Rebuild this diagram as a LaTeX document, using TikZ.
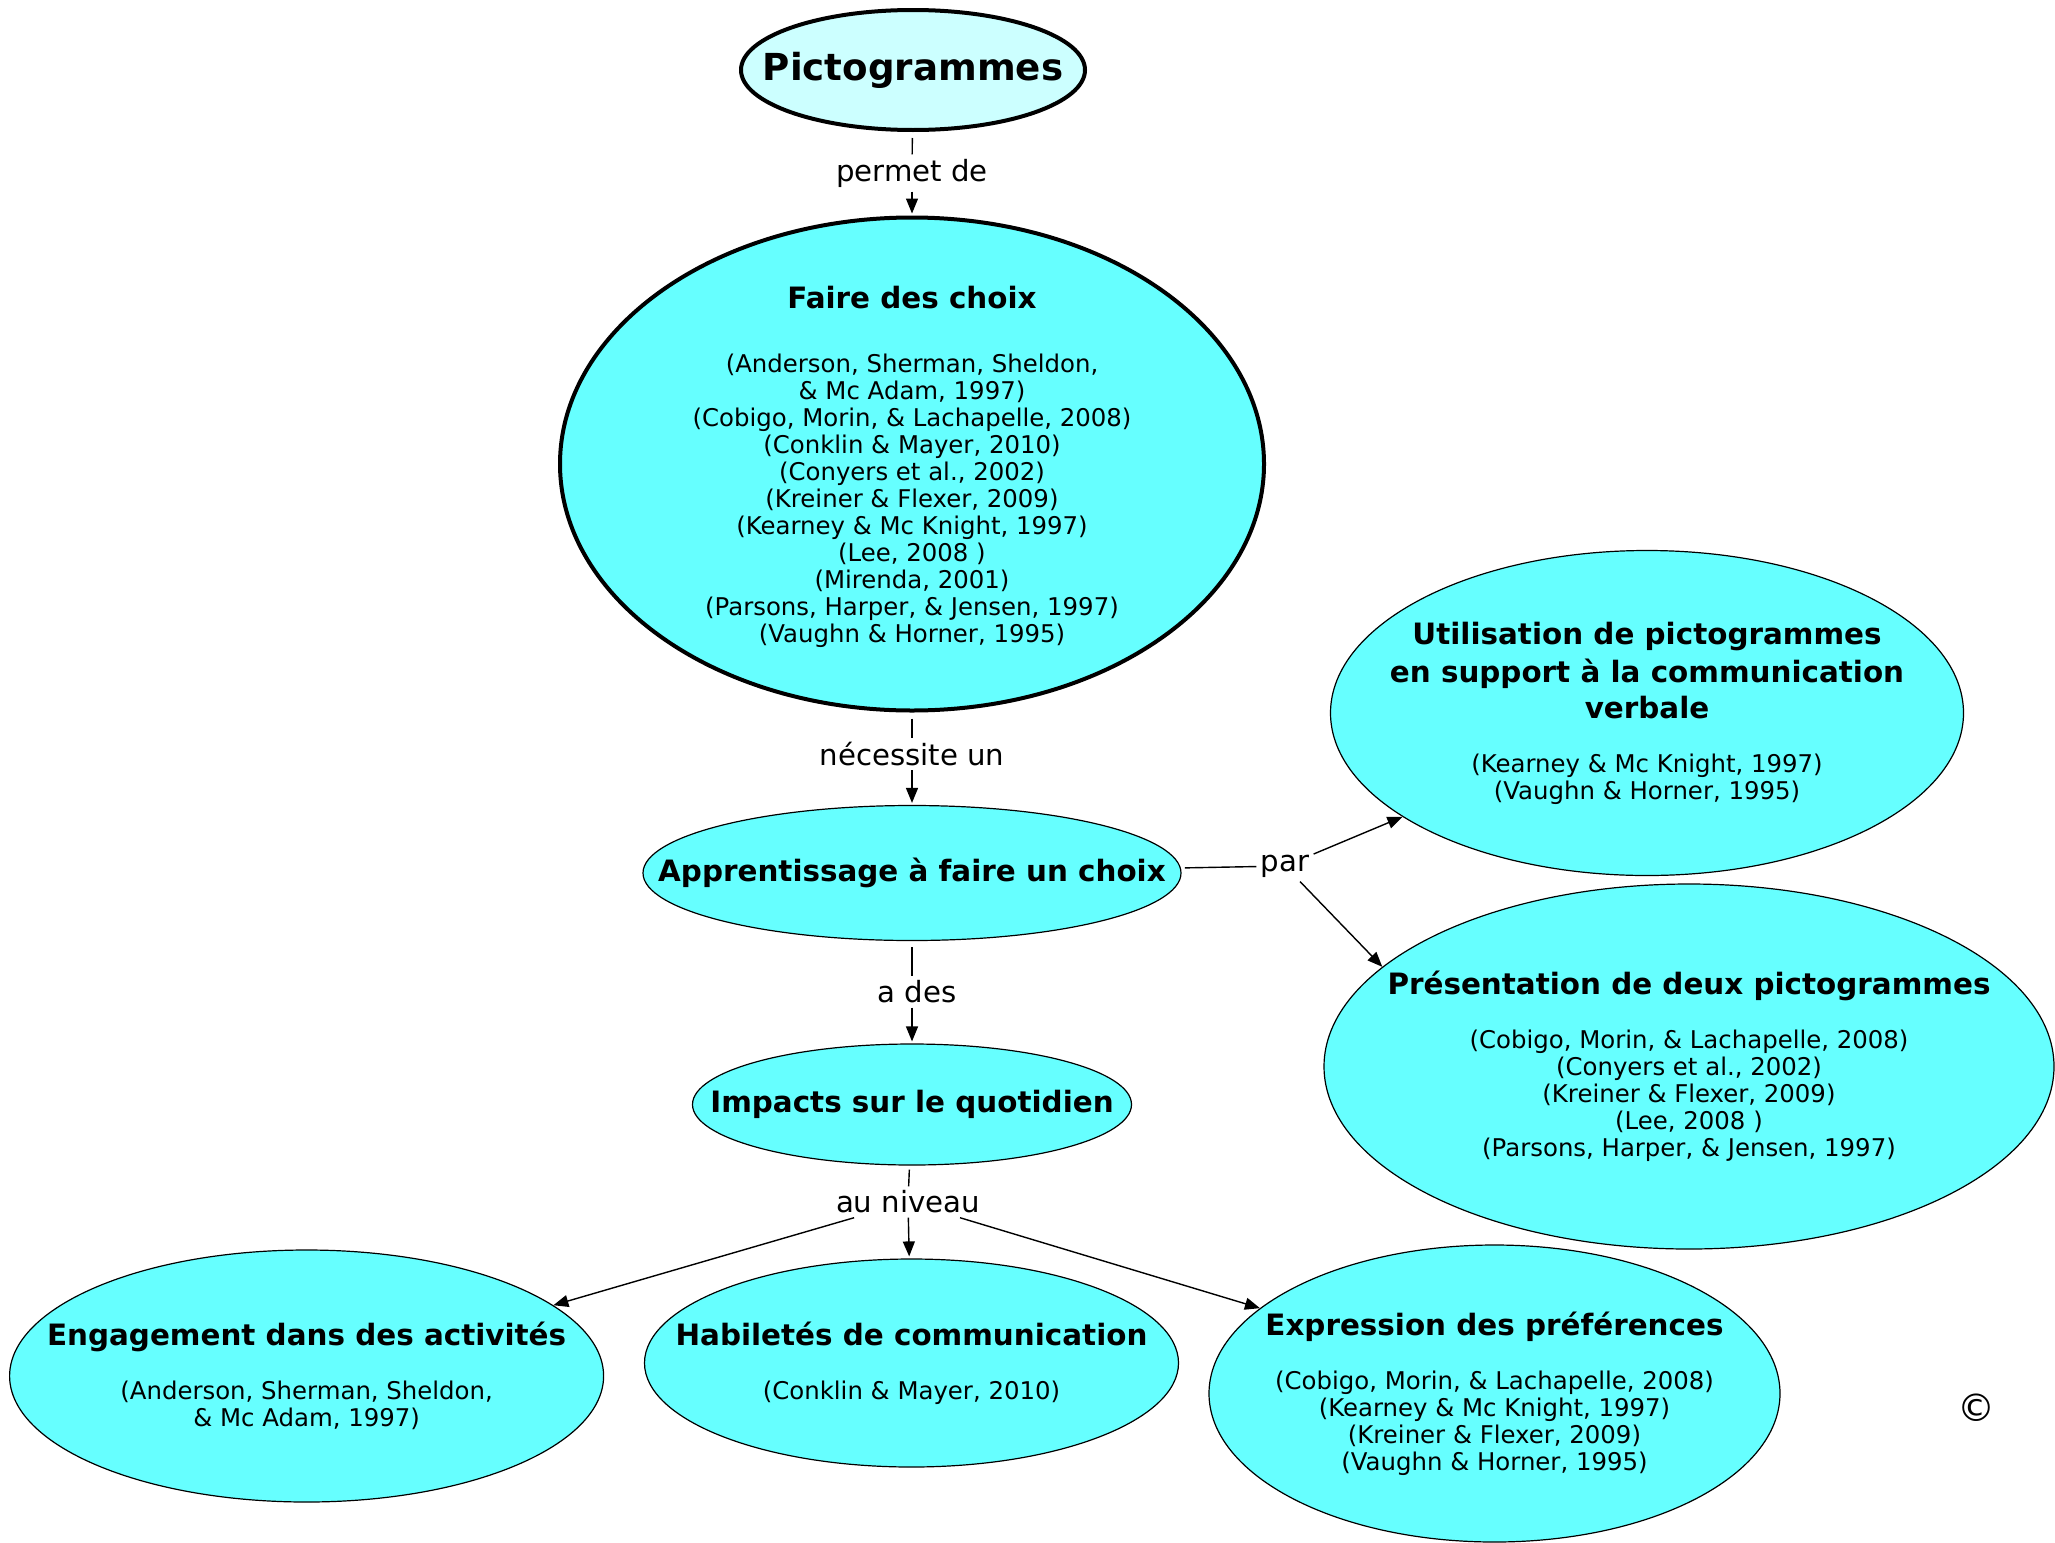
\documentclass[tikz,border=0pt]{standalone}
\usepackage{fontspec}
\setmainfont{DejaVu Sans}
\usepackage{tikz}
\usetikzlibrary{shapes.geometric, arrows.meta}
\definecolor{paleaqua}{HTML}{CCFFFF}
\definecolor{aqua}{HTML}{66FFFF}
\newcommand{\conc}[1]{{\bfseries\fontsize{14.7}{16.5}\selectfont #1}}

\begin{document}
\begin{tikzpicture}[
      x=0.5pt, y=-0.5pt,
      >={Triangle[width=6pt,length=7.5pt]},
      bubble/.style={
        ellipse, draw, line width=0.6pt, fill=aqua, inner sep=0pt,
      },
      mainbubble/.style={bubble, line width=2pt},
      rootbubble/.style={bubble, line width=2pt, fill=paleaqua},
      txt/.style={
        align=center, inner sep=0pt,
        font=\fontsize{12.2}{13.5}\selectfont,
      },
      link/.style={font=\fontsize{14.6}{16}\selectfont, inner sep=2pt},
      conn/.style={line width=0.7pt},
    ]
      \useasboundingbox (0,0) rectangle (2055,1542);

      % concepts
      \node[rootbubble, minimum width=172pt, minimum height=60pt] (pict) at (913,70) {};
      \node[mainbubble, minimum width=352pt, minimum height=246.5pt] (faire) at (912,464) {};
      \node[bubble, minimum width=269pt, minimum height=67.5pt] (app) at (912,873) {};
      \node[bubble, minimum width=219.5pt, minimum height=60.5pt] (imp) at (912,1104.5) {};
      \node[bubble, minimum width=316.5pt, minimum height=162.5pt] (util) at (1647,713) {};
      \node[bubble, minimum width=365pt, minimum height=182.5pt] (pres) at (1689,1066.5) {};
      \node[bubble, minimum width=297pt, minimum height=126pt] (eng) at (306.6,1376) {};
      \node[bubble, minimum width=267pt, minimum height=104pt] (hab) at (911.5,1363) {};
      \node[bubble, minimum width=285.5pt, minimum height=148.5pt] (expr) at (1494.5,1393.5) {};

      % texts
      \node[txt] (pict-t) at (pict) {\bfseries\fontsize{18.6}{20}\selectfont Pictogrammes};
      \node[txt] (faire-t) at ([yshift=-1.5pt]faire.center) {\conc{Faire des choix}\\[18.5pt]
        (Anderson, Sherman, Sheldon,\\
        \& Mc Adam, 1997)\\
        (Cobigo, Morin, \& Lachapelle, 2008)\\
        (Conklin \& Mayer, 2010)\\
        (Conyers et al., 2002)\\
        (Kreiner \& Flexer, 2009)\\
        (Kearney \& Mc Knight, 1997)\\
        (Lee, 2008 )\\
        (Mirenda, 2001)\\
        (Parsons, Harper, \& Jensen, 1997)\\
        (Vaughn \& Horner, 1995)};
      \node[txt] (app-t) at (app) {\conc{Apprentissage à faire un choix}};
      \node[txt] (imp-t) at (imp) {\conc{Impacts sur le quotidien}};
      \node[txt] (util-t) at (util) {\conc{Utilisation de pictogrammes}\\[3pt]
        \conc{en support à la communication}\\[3pt]
        \conc{verbale}\\[13.3pt]
        (Kearney \& Mc Knight, 1997)\\
        (Vaughn \& Horner, 1995)};
      \node[txt] (pres-t) at (pres) {\conc{Présentation de deux pictogrammes}\\[13.3pt]
        (Cobigo, Morin, \& Lachapelle, 2008)\\
        (Conyers et al., 2002)\\
        (Kreiner \& Flexer, 2009)\\
        (Lee, 2008 )\\
        (Parsons, Harper, \& Jensen, 1997)};
      \node[txt] (eng-t) at (eng) {\conc{Engagement dans des activités}\\[13.3pt]
        (Anderson, Sherman, Sheldon,\\
        \& Mc Adam, 1997)};
      \node[txt] (hab-t) at (hab) {\conc{Habiletés de communication}\\[13.3pt]
        (Conklin \& Mayer, 2010)};
      \node[txt] (expr-t) at (expr) {\conc{Expression des préférences}\\[13.3pt]
        (Cobigo, Morin, \& Lachapelle, 2008)\\
        (Kearney \& Mc Knight, 1997)\\
        (Kreiner \& Flexer, 2009)\\
        (Vaughn \& Horner, 1995)};
      \node[font=\fontsize{19}{20}\selectfont, inner sep=0pt] (copy) at (1976,1408) {©};

      % link phrases
      \node[link] (l-permet) at (912,173) {permet de};
      \node[link] (l-nec) at (912,754) {nécessite un};
      \node[link] (l-ades) at (917,992) {a des};
      \node[link] (l-par) at (1285,866) {par};
      \node[link] (l-niveau) at (908,1202) {au niveau};

      % connectors
      \draw[conn, shorten <=3pt] (pict) -- (l-permet);
      \draw[conn, ->, shorten >=1pt] (l-permet) -- (faire);
      \draw[conn, shorten <=3pt] (faire) -- (l-nec);
      \draw[conn, ->, shorten >=1pt] (l-nec) -- (app);
      \draw[conn, shorten <=3pt] (app.south) -- (app.south |- l-ades.north);
      \draw[conn, ->, shorten >=1pt] (imp.north |- l-ades.south) -- (imp.north);
      \draw[conn, shorten <=2pt] (app) -- (l-par);
      \draw[conn, ->] (l-par) -- (util.203);
      \draw[conn, ->] (l-par) -- (pres.162);
      \draw[conn, shorten <=2pt] (imp) -- (l-niveau);
      \draw[conn, ->] (l-niveau) -- (eng.16);
      \draw[conn, ->, shorten >=1pt] (l-niveau) -- (hab);
      \draw[conn, ->] (l-niveau) -- (expr.160);
    \end{tikzpicture}
\end{document}
